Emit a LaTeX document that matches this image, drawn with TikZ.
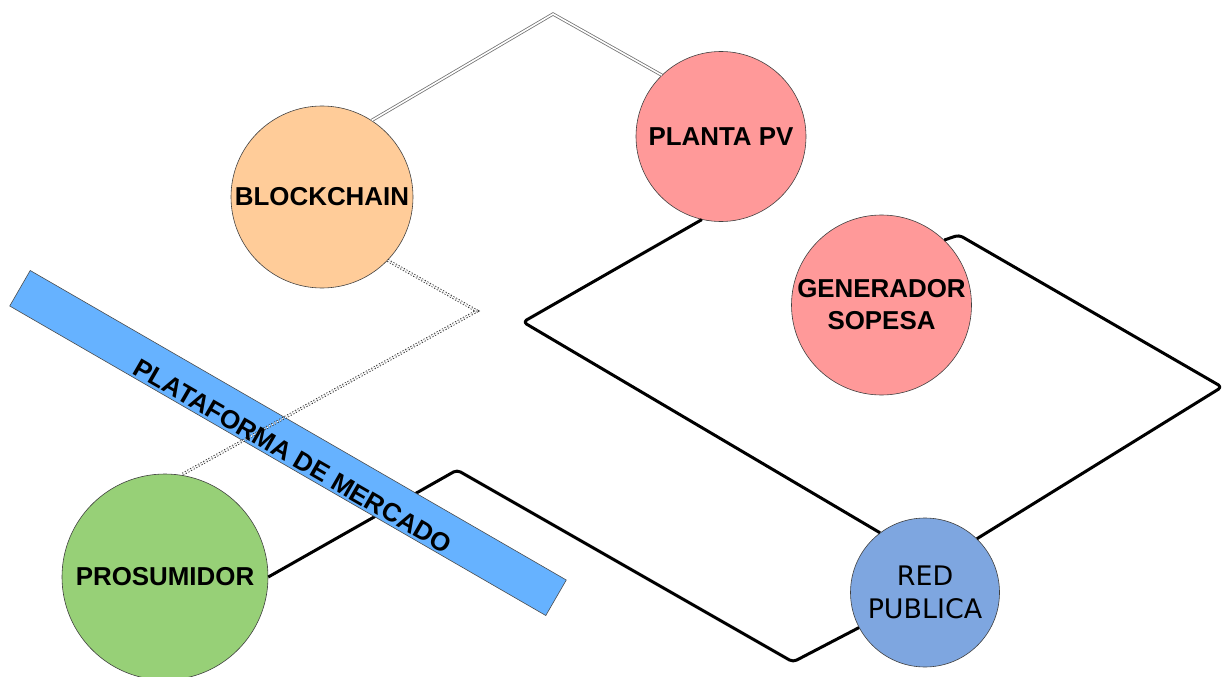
\documentclass[tikz,border=0pt]{standalone}
\usepackage{fontspec}
\setmainfont{Liberation Sans}
\newfontfamily\gridfont{DejaVu Sans}
\definecolor{chainorange}{HTML}{FFCC99}
\definecolor{sourcered}{HTML}{FF9999}
\definecolor{homegreen}{HTML}{97D077}
\definecolor{gridblue}{HTML}{7EA6E0}
\definecolor{marketblue}{HTML}{66B2FF}
\begin{document}
\begin{tikzpicture}[x=1bp,y=-1bp,
  ball/.style={circle,draw=black!75,line width=0.6bp,inner sep=0pt,align=center,
    font=\fontsize{26}{32}\selectfont\bfseries},
  wire/.style={line width=3bp,draw=black,rounded corners=4bp,line join=round},
  chain/.style={draw=black!55,double=white,line width=0.8bp,double distance=1.6bp},
  datalink/.style={draw=black!85,double=white,line width=0.8bp,double distance=1.4bp,
    dash pattern=on 1.2bp off 1.8bp},
  barstyle/.style={draw=black!70,line width=0.6bp,fill=marketblue,inner sep=0pt,
    minimum width=619bp,minimum height=41bp,rotate=-30},
  barlabel/.style={rotate=-30,inner sep=0pt,font=\fontsize{26}{32}\selectfont\bfseries}]

\useasboundingbox (0,0) rectangle (1223,677);

% participants
\node[ball,fill=chainorange,minimum size=182bp] (bc)   at (322,197)   {BLOCKCHAIN};
\node[ball,fill=sourcered,minimum size=170bp]   (pv)   at (721,136.5) {PLANTA PV};
\node[ball,fill=sourcered,minimum size=180bp]   (gen)  at (881.5,305) {GENERADOR\\SOPESA};
\node[ball,fill=gridblue,minimum size=149bp,
      font=\gridfont\fontsize{27}{33}\selectfont] (red) at (925,592.5) {RED\\PUBLICA};
\node[ball,fill=homegreen,minimum size=206bp]   (pros) at (165,577)   {PROSUMIDOR};

% power lines
\draw[wire] (pv.-103.5) -- (523,322) -- (red.127);
\draw[wire] (gen.46) -- (959,235) -- (1222,387) -- (red.46);
\draw[wire] (pros.east) -- (457,470) -- (793,662) -- (red.208);

% market platform bar
\node[barstyle] (bar) at (288,443) {};

% ledger and data links
\draw[chain] (bc.57.5) -- (553,14) -- (pv.134.8);
\draw[datalink] (bc.-44) -- (477,311) -- (pros.81.6);

\node[barlabel] (barname) at (293,456) {PLATAFORMA DE MERCADO};
\end{tikzpicture}
\end{document}
